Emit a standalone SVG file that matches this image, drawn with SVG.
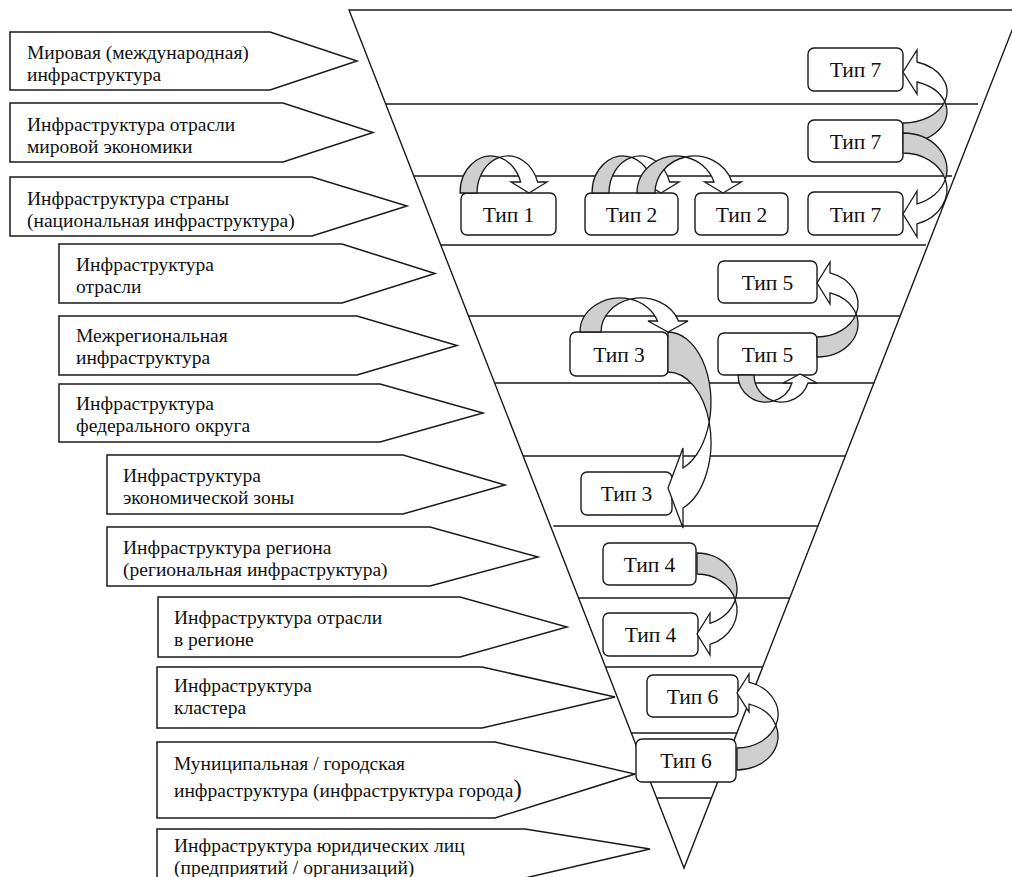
<svg xmlns="http://www.w3.org/2000/svg" width="1012" height="877" viewBox="0 0 1012 877">
<style>
.ln{stroke:#1a1a1a;stroke-width:1.4;fill:none}
.lbl{fill:#fff;stroke:#1a1a1a;stroke-width:1.5}
.lt{font-family:"Liberation Serif","Times New Roman",serif;font-size:19.5px;fill:#111}
.box{fill:#fff;stroke:#1a1a1a;stroke-width:1.4}
.bt{font-family:"Liberation Serif","Times New Roman",serif;font-size:21.5px;fill:#111;text-anchor:middle}
.g{fill:#cfcfcf;stroke:#1a1a1a;stroke-width:1.3;stroke-linejoin:round}
.w{fill:#fff;stroke:#1a1a1a;stroke-width:1.3;stroke-linejoin:miter}
</style>
<rect width="1012" height="877" fill="#fff"/>
<g id="pyramid">
<path class="ln" d="M349,10 L1020,10 L684,868 Z"/>
<path class="ln" d="M385.7,104 H978 M413.8,176 H952 M440.7,245 H926 M468.5,316 H900.2 M494.6,383 H874.1 M523.1,456 H845.3 M553.4,526 H817.9 M578.6,598 H789.7 M605.5,667 H762.7 M631.3,733 H736.9 M656.6,798 H711.4"/>
</g>
<g id="label-1"><path class="lbl" d="M10,32 H270 L357,61 L270,90 H10 Z"/><text class="lt" x="27" y="59">Мировая (международная)</text><text class="lt" x="27" y="81">инфраструктура</text></g>
<g id="label-2"><path class="lbl" d="M10,103 H283 L373,132.5 L283,162 H10 Z"/><text class="lt" x="27" y="130.5">Инфраструктура отрасли</text><text class="lt" x="27" y="152.5">мировой экономики</text></g>
<g id="label-3"><path class="lbl" d="M10,177 H312 L407,206 L312,236 H10 Z"/><text class="lt" x="27" y="204.5">Инфраструктура страны</text><text class="lt" x="27" y="226.5">(национальная инфраструктура)</text></g>
<g id="label-4"><path class="lbl" d="M59,244 H342 L435,273.5 L342,303 H59 Z"/><text class="lt" x="76" y="271">Инфраструктура</text><text class="lt" x="76" y="293">отрасли</text></g>
<g id="label-5"><path class="lbl" d="M59,316 H357 L457,345.5 L357,375 H59 Z"/><text class="lt" x="76" y="342">Межрегиональная</text><text class="lt" x="76" y="364">инфраструктура</text></g>
<g id="label-6"><path class="lbl" d="M59,384 H380 L483,413 L380,442 H59 Z"/><text class="lt" x="76" y="410">Инфраструктура</text><text class="lt" x="76" y="432">федерального округа</text></g>
<g id="label-7"><path class="lbl" d="M107,455 H403 L505,485 L403,514 H107 Z"/><text class="lt" x="123" y="481.5">Инфраструктура</text><text class="lt" x="123" y="503.5">экономической зоны</text></g>
<g id="label-8"><path class="lbl" d="M107,527 H430 L538,557 L430,586 H107 Z"/><text class="lt" x="123" y="553.5">Инфраструктура региона</text><text class="lt" x="123" y="575.5">(региональная инфраструктура)</text></g>
<g id="label-9"><path class="lbl" d="M158,597 H460 L567,627 L460,657 H158 Z"/><text class="lt" x="174" y="624">Инфраструктура отрасли</text><text class="lt" x="174" y="646">в регионе</text></g>
<g id="label-10"><path class="lbl" d="M157,667 H482 L615,697 L482,728 H157 Z"/><text class="lt" x="174" y="691.5">Инфраструктура</text><text class="lt" x="174" y="713.5">кластера</text></g>
<g id="label-11"><path class="lbl" d="M157,742 H495 L635,774 L495,818 H157 Z"/><text class="lt" x="174" y="770">Муниципальная / городская</text><text class="lt" x="174" y="797">инфраструктура (инфраструктура города<tspan font-size="25">)</tspan></text></g>
<g id="label-12"><path class="lbl" d="M157,829 H525 L650,849 L525,878 H157 Z"/><text class="lt" x="174" y="852">Инфраструктура юридических лиц</text><text class="lt" x="174" y="874">(предприятий / организаций)</text></g>
<g id="type-1"><rect class="box" x="461" y="193" width="95" height="42" rx="6"/><text class="bt" x="508.5" y="221.5">Тип 1</text></g>
<g id="type-2a"><rect class="box" x="585" y="193" width="93" height="42" rx="6"/><text class="bt" x="631.5" y="221.5">Тип 2</text></g>
<g id="type-2b"><rect class="box" x="695" y="193" width="93" height="42" rx="6"/><text class="bt" x="741.5" y="221.5">Тип 2</text></g>
<g id="type-7a"><rect class="box" x="808" y="48" width="95" height="43" rx="6"/><text class="bt" x="855.5" y="77">Тип 7</text></g>
<g id="type-7b"><rect class="box" x="808" y="120" width="95" height="42" rx="6"/><text class="bt" x="855.5" y="148.5">Тип 7</text></g>
<g id="type-7c"><rect class="box" x="808" y="192" width="95" height="43" rx="6"/><text class="bt" x="855.5" y="221.5">Тип 7</text></g>
<g id="type-5a"><rect class="box" x="718" y="261" width="99" height="42" rx="6"/><text class="bt" x="767.5" y="289.5">Тип 5</text></g>
<g id="type-5b"><rect class="box" x="718" y="333" width="99" height="42" rx="6"/><text class="bt" x="767.5" y="361.5">Тип 5</text></g>
<g id="type-3a"><rect class="box" x="570" y="332" width="98" height="44" rx="6"/><text class="bt" x="619" y="361.5">Тип 3</text></g>
<g id="type-3b"><rect class="box" x="581" y="472" width="91" height="43" rx="6"/><text class="bt" x="626.5" y="501">Тип 3</text></g>
<g id="type-4a"><rect class="box" x="603" y="543" width="93" height="42" rx="6"/><text class="bt" x="649.5" y="571.5">Тип 4</text></g>
<g id="type-4b"><rect class="box" x="603" y="613" width="95" height="43" rx="6"/><text class="bt" x="650.5" y="642">Тип 4</text></g>
<g id="type-6a"><rect class="box" x="647" y="675" width="91" height="42" rx="6"/><text class="bt" x="692.5" y="703.5">Тип 6</text></g>
<g id="type-6b"><rect class="box" x="636" y="739" width="100" height="43" rx="6"/><text class="bt" x="686" y="768">Тип 6</text></g>
<g id="connectors">
<g id="arrow-t1"><path class="g" d="M460,193 A31,37 0 0 1 499.5,157.4 A31,37 0 0 0 477,193 Z"/><path class="w" d="M499.5,157.4 A31,37 0 0 1 537.6,182 L547,182 L529,193 L511,182 L520.6,182 A31,37 0 0 0 499.5,157.4 Z"/></g>
<g id="arrow-t2a" transform="translate(132,0)"><path class="g" d="M460,193 A31,37 0 0 1 499.5,157.4 A31,37 0 0 0 477,193 Z"/><path class="w" d="M499.5,157.4 A31,37 0 0 1 537.6,182 L547,182 L529,193 L511,182 L520.6,182 A31,37 0 0 0 499.5,157.4 Z"/></g>
<g id="arrow-t2b"><path class="g" d="M637,193 A39.4,37 0 0 1 685.4,157 A39.4,37 0 0 0 655,193 Z"/><path class="w" d="M685.4,157 A39.4,37 0 0 1 732,182 L741.4,182 L723,193 L704.6,182 L714,182 A39.4,37 0 0 0 685.4,157 Z"/></g>
<g id="arrow-t7up"><path class="g" d="M903,143 A44,31.3 0 0 0 944.7,101.7 A44,31.3 0 0 1 903,123 Z"/><path class="w" d="M944.7,101.7 A44,31.3 0 0 0 917,62 L917,50 L903,72 L917,94 L917,82 A44,31.3 0 0 1 944.7,101.7 Z"/></g>
<g id="arrow-t7down"><path class="g" d="M903,133 A44,36.4 0 0 1 945.3,179.4 A44,36.4 0 0 0 903,153 Z"/><path class="w" d="M945.3,179.4 A44,36.4 0 0 1 917,223.9 L917,237 L903,214 L917,191 L917,203.9 A44,36.4 0 0 0 945.3,179.4 Z"/></g>
<g id="arrow-t5up"><path class="g" d="M817,357 A41,32.9 0 0 0 856.1,314.1 A41,32.9 0 0 1 817,337 Z"/><path class="w" d="M856.1,314.1 A41,32.9 0 0 0 830,272.9 L830,262 L817,283 L830,304 L830,292.9 A41,32.9 0 0 1 856.1,314.1 Z"/></g>
<g id="arrow-t5loop"><path class="g" d="M738,375 A27.6,27 0 0 0 773.6,400.8 A27.6,27 0 0 1 754,375 Z"/><path class="w" d="M773.6,400.8 A27.6,27 0 0 0 808,383 L817,383 L800,374 L783,383 L792,383 A27.6,27 0 0 1 773.6,400.8 Z"/></g>
<g id="arrow-t3down"><path class="g" d="M668,332 A43,70.2 0 0 1 709.2,422.2 A43,70.2 0 0 0 668,372 Z"/><path class="w" d="M709.2,422.2 A43,70.2 0 0 1 683,508 L683,528 L668,488 L683,448 L683,468 A43,70.2 0 0 0 709.2,422.2 Z"/></g>
<g id="arrow-t3loop"><path class="g" d="M580,332 A39.8,34 0 0 1 630.3,299.2 A39.8,34 0 0 0 601,332 Z"/><path class="w" d="M630.3,299.2 A39.8,34 0 0 1 678.5,321 L688,321 L668,332 L648,321 L657.5,321 A39.8,34 0 0 0 630.3,299.2 Z"/></g>
<g id="arrow-t4"><path class="g" d="M697,553 A40,36.2 0 0 1 735.3,599.7 A40,36.2 0 0 0 697,574 Z"/><path class="w" d="M735.3,599.7 A40,36.2 0 0 1 710,644.4 L710,655 L697,634 L710,613 L710,623.4 A40,36.2 0 0 0 735.3,599.7 Z"/></g>
<g id="arrow-t6"><path class="g" d="M737,770 A41,33.7 0 0 0 775.8,725.3 A41,33.7 0 0 1 737,748 Z"/><path class="w" d="M775.8,725.3 A41,33.7 0 0 0 749,682.1 L749,674 L737,693 L749,712 L749,704.1 A41,33.7 0 0 1 775.8,725.3 Z"/></g>
</g>
</svg>
